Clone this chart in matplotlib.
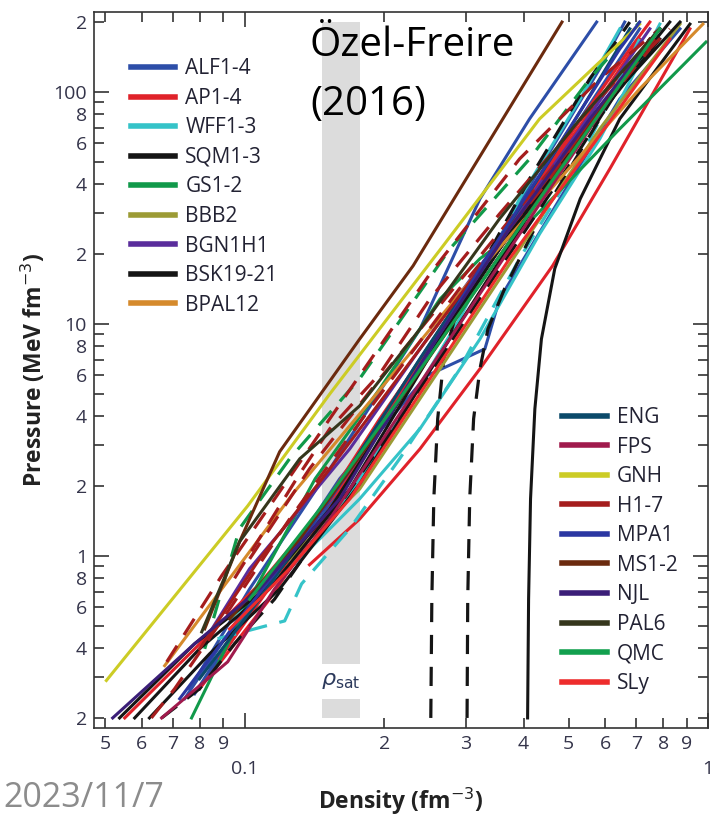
import numpy as np
import matplotlib
matplotlib.use("Agg")
from matplotlib import pyplot as plt
from matplotlib.lines import Line2D
from matplotlib.ticker import LogLocator, FuncFormatter

# Equations of state: density (fm^-3) vs pressure (MeV fm^-3)
alf_d = [[0.0742, 0.1, 0.1527, 0.239, 0.355, 0.53, 0.712],
         [0.0799, 0.1077, 0.1604, 0.247, 0.33, 0.355, 0.479, 0.645, 0.87],
         [0.078, 0.105, 0.1452, 0.216, 0.306, 0.433, 0.584, 0.661],
         [0.0761, 0.1025, 0.1527, 0.239, 0.322, 0.412, 0.575]]
alf_p = [[0.242, 0.59, 1.76, 7.07, 23.2, 76.5, 187],
         [0.267, 0.65, 2.15, 5.97, 7.8, 12.8, 34.6, 93.3, 187],
         [0.254, 0.65, 1.44, 4.75, 14.2, 46.6, 126, 200],
         [0.267, 0.72, 2.37, 9.5, 34.6, 76.5, 200]]

ap_d = [[0.0551, 0.078, 0.1077, 0.1604, 0.264, 0.392, 0.584, 0.787],
        [0.138, 0.1771, 0.239, 0.322, 0.462, 0.614, 0.799, 0.914],
        [0.0799, 0.1132, 0.1686, 0.277, 0.433, 0.678, 0.749],
        [0.0883, 0.125, 0.1957, 0.306, 0.479, 0.712]]
ap_p = [[0.2, 0.397, 0.757, 1.94, 9.5, 31.3, 93.3, 187],
        [0.915, 1.44, 2.89, 6.4, 17.8, 46.6, 117, 187],
        [0.267, 0.65, 2.15, 10.5, 42.2, 153, 200],
        [0.36, 0.97, 3.9, 14.2, 51.4, 169]]

wff_d = [[0.0975, 0.1315, 0.1771, 0.239, 0.322, 0.433, 0.584, 0.787],
         [0.0874, 0.122, 0.1327, 0.1686, 0.216, 0.291, 0.392, 0.53, 0.712],
         [0.0928, 0.125, 0.1604, 0.216, 0.291, 0.392, 0.53, 0.645]]
wff_p = [[0.59, 0.97, 1.76, 3.53, 8.6, 24.4, 62.7, 196],
         [0.439, 0.524, 0.757, 1.31, 2.62, 6.4, 19.1, 51.4, 169],
         [0.535, 0.88, 1.59, 3.9, 10.5, 34.6, 93.3, 187]]

sqm_d = [[0.2522, 0.2535, 0.256, 0.261, 0.269, 0.284, 0.322, 0.412, 0.556, 0.678],
         [0.302, 0.303, 0.306, 0.312, 0.322, 0.335, 0.364, 0.433, 0.584, 0.749],
         [0.408, 0.41, 0.414, 0.423, 0.437, 0.467, 0.53, 0.645, 0.914]]
sqm_p = [[0.2, 0.65, 1.76, 3.9, 7.07, 10.5, 17.3, 42.2, 114, 200],
         [0.2, 0.65, 1.76, 3.9, 6.4, 9.5, 14.2, 28.4, 76.5, 169],
         [0.2, 0.65, 1.76, 4.3, 8.6, 17.3, 34.6, 76.5, 196]]

gs_d = [[0.0768, 0.1025, 0.142, 0.1957, 0.264, 0.322, 0.412, 0.645, 0.99],
        [0.082, 0.0975, 0.125, 0.1771, 0.277, 0.412, 0.556, 0.712]]
gs_p = [[0.2, 0.65, 2.15, 5.25, 12.8, 19.1, 27.5, 69.3, 164],
        [0.397, 1.31, 2.62, 5.8, 21.0, 51.4, 114, 200]]

bbb_d = [[0.0928, 0.125, 0.1771, 0.264, 0.392, 0.584, 0.87]]
bbb_p = [[0.535, 0.97, 1.94, 6.4, 21.0, 69.3, 196]]

bgn_d = [[0.0832, 0.1025, 0.128, 0.1686, 0.239, 0.355, 0.53, 0.749]]
bgn_p = [[0.452, 0.88, 1.49, 2.89, 7.8, 23.2, 69.3, 187]]

bsk_d = [[0.0537, 0.078, 0.1077, 0.1527, 0.239, 0.355, 0.53, 0.787],
         [0.0579, 0.0799, 0.1132, 0.1686, 0.264, 0.392, 0.584, 0.827],
         [0.0623, 0.084, 0.119, 0.1771, 0.277, 0.412, 0.614, 0.87],
         [0.0662, 0.0799, 0.0951, 0.116, 0.1527, 0.239, 0.355, 0.53, 0.749]]
bsk_p = [[0.2, 0.418, 0.686, 1.59, 6.4, 21.0, 62.7, 169],
         [0.2, 0.397, 0.72, 1.94, 8.6, 28.4, 84.5, 200],
         [0.2, 0.378, 0.72, 2.04, 8.6, 29.8, 93.3, 200],
         [0.2, 0.267, 0.418, 0.65, 1.44, 5.25, 17.3, 56.8, 169]]

bpal_d = [[0.0672, 0.0799, 0.127, 0.1771, 0.306, 0.479, 0.712, 0.975]]
bpal_p = [[0.336, 0.535, 1.85, 4.09, 15.2, 42.2, 103, 196]]

eng_d = [[0.0799, 0.1077, 0.1527, 0.239, 0.355, 0.503, 0.678]]
eng_p = [[0.295, 0.65, 1.76, 7.07, 23.2, 69.3, 187]]

fps_d = [[0.0662, 0.0919, 0.116, 0.1527, 0.227, 0.338, 0.503, 0.749]]
fps_p = [[0.2, 0.349, 0.72, 1.44, 4.75, 15.6, 51.4, 169]]

gnh_d = [[0.0503, 0.1015, 0.1527, 0.27, 0.433, 0.712]]
gnh_p = [[0.29, 1.64, 4.99, 22.1, 76.5, 196]]

h_d = [[0.0679, 0.0892, 0.1121, 0.1527, 0.251, 0.392, 0.584, 0.787],
       [0.0629, 0.0706, 0.0928, 0.125, 0.186, 0.291, 0.456, 0.712, 0.827],
       [0.1025, 0.138, 0.1957, 0.306, 0.479, 0.749],
       [0.0799, 0.1077, 0.1527, 0.239, 0.373, 0.584, 0.787],
       [0.0951, 0.1315, 0.1527, 0.1957, 0.251, 0.355, 0.556, 0.768]]
h_p = [[0.349, 0.82, 1.59, 3.9, 16.4, 51.4, 114, 187],
       [0.2, 0.267, 0.59, 1.44, 4.3, 14.2, 42.2, 139, 187],
       [0.97, 2.37, 5.8, 17.3, 51.4, 153],
       [0.397, 0.97, 2.37, 7.8, 25.7, 84.5, 187],
       [0.8, 2.26, 3.53, 6.09, 12.8, 29.8, 84.5, 169]]

mpa_d = [[0.0724, 0.0975, 0.138, 0.216, 0.322, 0.456, 0.645, 0.712]]
mpa_p = [[0.242, 0.535, 1.31, 4.75, 17.3, 51.4, 153, 200]]

ms_d = [[0.082, 0.0975, 0.119, 0.1771, 0.231, 0.484],
        [0.0928, 0.1315, 0.1957, 0.306, 0.479, 0.749]]
ms_p = [[0.484, 1.15, 2.81, 8.6, 17.8, 200],
        [0.535, 1.18, 3.53, 12.8, 46.6, 169]]

njl_d = [[0.0519, 0.078, 0.1077, 0.1604, 0.251, 0.373, 0.556, 0.787]]
njl_p = [[0.2, 0.418, 0.72, 1.76, 7.8, 25.7, 76.5, 187]]

pal_d = [[0.0808, 0.0975, 0.1315, 0.1771, 0.239, 0.355, 0.53, 0.787]]
pal_p = [[0.47, 1.15, 2.62, 4.43, 9.5, 28.4, 76.5, 187]]

qmc_d = [[0.1025, 0.1452, 0.216, 0.306, 0.433, 0.614, 0.787]]
qmc_p = [[0.65, 1.59, 4.75, 12.8, 34.6, 93.3, 187]]

sly_d = [[0.0928, 0.125, 0.1686, 0.251, 0.373, 0.556, 0.827]]
sly_p = [[0.484, 0.88, 1.76, 5.8, 19.1, 56.8, 169]]

# saturation density band
rho_sat = [0.147, 0.177]

# family name, colour, data, line style of each curve
fam_left = [
    ("ALF1-4", "#2d4ea8", alf_d, alf_p, ["-", "-", "-", "-"]),
    ("AP1-4", "#e0222a", ap_d, ap_p, ["-", "-", "-", "-"]),
    ("WFF1-3", "#35c3c8", wff_d, wff_p, ["-", "--", "-"]),
    ("SQM1-3", "#151515", sqm_d, sqm_p, ["--", "--", "-"]),
    ("GS1-2", "#11994a", gs_d, gs_p, ["-", "--"]),
    ("BBB2", "#9c9b35", bbb_d, bbb_p, ["-"]),
    ("BGN1H1", "#5a2d9c", bgn_d, bgn_p, ["-"]),
    ("BSK19-21", "#151515", bsk_d, bsk_p, ["-", "-", "-", "--"]),
    ("BPAL12", "#d58a2c", bpal_d, bpal_p, ["-"]),
]
fam_right = [
    ("ENG", "#0b4a6a", eng_d, eng_p, ["-"]),
    ("FPS", "#a01a4c", fps_d, fps_p, ["-"]),
    ("GNH", "#cccc25", gnh_d, gnh_p, ["-"]),
    ("H1-7", "#a51d1d", h_d, h_p, ["--", "--", "--", "-", "--"]),
    ("MPA1", "#2b37a2", mpa_d, mpa_p, ["-"]),
    ("MS1-2", "#6b2a0e", ms_d, ms_p, ["-", "-"]),
    ("NJL", "#3b1e78", njl_d, njl_p, ["-"]),
    ("PAL6", "#35361c", pal_d, pal_p, ["-"]),
    ("QMC", "#12a04e", qmc_d, qmc_p, ["-"]),
    ("SLy", "#ee2c2c", sly_d, sly_p, ["-"]),
]

plt.rcParams['font.family'] = ['Open Sans', 'DejaVu Sans']
tick_col = '#34344a'

fig = plt.figure(figsize=(7.14, 8.22), dpi=100)
ax = fig.add_axes([94/714, 1 - 728/822, 614/714, 716/822])
ax.set_xscale('log')
ax.set_yscale('log')
ax.set_xlim(0.0473, 1.0)
ax.set_ylim(0.181, 221)

# gray band with a gap for the label
ax.fill_betweenx([0.342, 200], rho_sat[0], rho_sat[1], color='#dcdcdc', lw=0, zorder=0)
ax.fill_betweenx([0.2, 0.242], rho_sat[0], rho_sat[1], color='#dcdcdc', lw=0, zorder=0)
ax.text(np.sqrt(rho_sat[0]*rho_sat[1]), 0.29, r'$\rho_{\rm sat}$', ha='center', va='center',
        fontsize=16, color='#2c3a5c')

for name, col, dd, pp, styles in fam_left + fam_right:
    for d, p, ls in zip(dd, pp, styles):
        if ls == '--':
            ax.plot(d, p, color=col, lw=2.3, ls=(0, (6, 4)), solid_capstyle='butt')
        else:
            ax.plot(d, p, color=col, lw=2.2)

# legends
h1 = [Line2D([], [], color=c, lw=4) for _, c, _, _, _ in fam_left]
h2 = [Line2D([], [], color=c, lw=4) for _, c, _, _, _ in fam_right]
leg_kw = dict(frameon=False, fontsize=15, handlelength=2.15, handletextpad=0.48,
              labelspacing=0.41, borderaxespad=0)
leg1 = ax.legend(h1, [f[0] for f in fam_left], loc='upper left', bbox_to_anchor=(0.046, 0.947),
                 **leg_kw)
for t in leg1.get_texts():
    t.set_color('#222233')
ax.add_artist(leg1)
leg2 = ax.legend(h2, [f[0] for f in fam_right], loc='lower left', bbox_to_anchor=(0.749, 0.036),
                 **leg_kw)
for t in leg2.get_texts():
    t.set_color('#222233')

# ticks
def y_minor(v, pos):
    m = int(round(v / 10 ** np.floor(np.log10(v) + 1e-9)))
    return str(m) if m in (2, 4, 6, 8) else ''

def y_major(v, pos):
    return '%g' % v

def x_minor(v, pos):
    m = int(round(v / 10 ** np.floor(np.log10(v) + 1e-9)))
    return str(m)

ax.xaxis.set_major_locator(LogLocator(base=10, numticks=10))
ax.xaxis.set_minor_locator(LogLocator(base=10, subs=np.arange(2, 10), numticks=10))
ax.yaxis.set_major_locator(LogLocator(base=10, numticks=10))
ax.yaxis.set_minor_locator(LogLocator(base=10, subs=np.arange(2, 10), numticks=10))
ax.xaxis.set_major_formatter(FuncFormatter(y_major))
ax.xaxis.set_minor_formatter(FuncFormatter(x_minor))
ax.yaxis.set_major_formatter(FuncFormatter(y_major))
ax.yaxis.set_minor_formatter(FuncFormatter(y_minor))

ax.tick_params(which='both', direction='in', top=True, right=True, colors='#333333',
               labelcolor=tick_col, labelsize=14, width=1.2)
ax.tick_params(which='major', length=11)
ax.tick_params(which='minor', length=7)
ax.tick_params(axis='x', which='minor', pad=5)
ax.tick_params(axis='x', which='major', pad=23)
ax.tick_params(axis='y', which='both', pad=5)
for s in ax.spines.values():
    s.set_linewidth(1.2)
    s.set_color('#333333')

ax.set_xlabel('Density (fm$^{-3}$)', fontsize=16.5, fontweight='bold', color='#222222', labelpad=6)
ax.set_ylabel('Pressure (MeV fm$^{-3}$)', fontsize=16.5, fontweight='bold', color='#222222', labelpad=4)

fig.text(310/714, 1 - 26/822, 'Özel-Freire\n(2016)', fontsize=29, ha='left', va='top',
         color='black', linespacing=1.6)
fig.text(3/714, 1 - 798/822, '2023/11/7', fontsize=24.5, ha='left', va='center', color='#8c8c8c')

plt.savefig('out.png', dpi=100)
